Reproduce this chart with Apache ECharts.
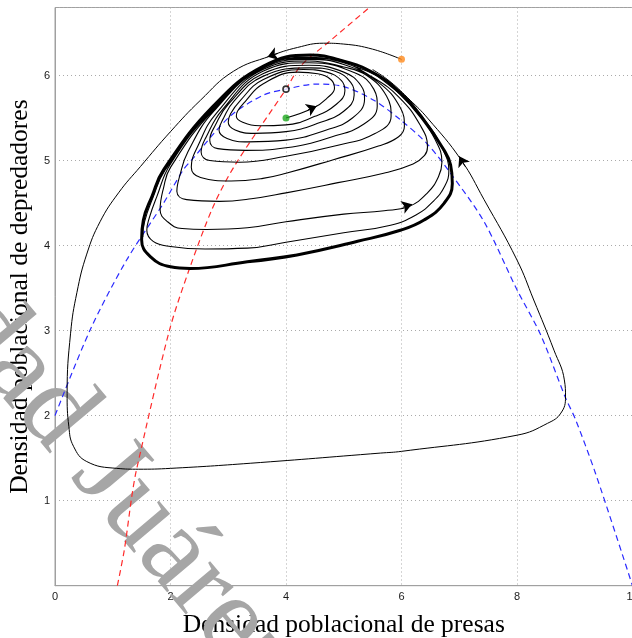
<!DOCTYPE html>
<html><head><meta charset="utf-8">
<script src="https://cdn.jsdelivr.net/npm/echarts@6/dist/echarts.min.js"></script>
<style>html,body{margin:0;padding:0;background:#fff;overflow:hidden}#c{width:632px;height:638px}</style>
</head><body><div id="c"></div>
<script>
// ---- data ----
const xTickLabels = [0, 2, 4, 6, 8, 10];
const yTickLabels = [1, 2, 3, 4, 5, 6];

const redNullcline = [[1.08,0],[1.20,0.42],[1.33,1.05],[1.41,1.36],[1.98,3.0],[2.34,3.75],[2.74,4.46],[3.12,4.95],[4.0,5.84],[4.25,6.11],[4.75,6.40],[5.46,6.81]];
const blueNullcline = [[0,2.0],[0.61,3.01],[1.24,3.83],[1.88,4.50],[2.22,4.89],[2.37,5.01],[3.03,5.52],[3.61,5.77],[4.0,5.84],[4.53,5.90],[5.0,5.87],[5.52,5.71],[5.98,5.48],[6.44,5.20],[6.85,4.85],[7.43,4.28],[8.0,3.48],[8.41,2.95],[8.84,2.21],[9.01,1.96],[9.36,1.32],[10,0]];

const spiralLoop1 = [[4.00,5.50],[4.48,5.62],[4.72,5.74],[4.84,5.85],[4.78,5.95],[4.55,6.02],[4.20,6.04],[3.60,5.90],[3.30,5.70],[3.16,5.58],[3.14,5.52],[3.25,5.45],[3.55,5.41],[4.00,5.42]];
const spiralLoop2 = [[4.50,5.52],[4.85,5.65],[5.02,5.82],[4.96,5.94],[4.70,6.04],[4.30,6.07],[3.60,5.95],[3.20,5.70],[3.04,5.55],[3.00,5.45],[3.12,5.36],[3.45,5.32],[4.00,5.34]];
const spiralLoop3 = [[4.60,5.45],[5.00,5.58],[5.18,5.77],[5.12,5.92],[4.85,6.05],[4.40,6.09],[3.60,5.99],[3.10,5.70],[2.92,5.50],[2.84,5.36],[2.98,5.26],[3.35,5.22],[4.00,5.24]];
const spiralLoop4 = [[4.70,5.36],[5.15,5.50],[5.36,5.72],[5.30,5.88],[5.00,6.04],[4.40,6.12],[3.60,6.02],[3.00,5.66],[2.78,5.42],[2.68,5.24],[2.82,5.14],[3.30,5.12],[4.00,5.15]];
const spiralLoop5 = [[4.80,5.28],[5.35,5.43],[5.58,5.64],[5.52,5.84],[5.20,6.03],[4.40,6.15],[3.60,6.05],[2.90,5.60],[2.62,5.28],[2.53,5.10],[2.68,5.00],[3.20,4.98],[4.00,5.05]];
const spiralLoop6 = [[4.90,5.18],[5.55,5.32],[5.82,5.52],[5.74,5.76],[5.40,6.00],[5.00,6.10],[4.40,6.17],[3.60,6.07],[2.80,5.56],[2.48,5.18],[2.36,4.92],[2.52,4.80],[3.05,4.76],[3.60,4.79],[4.00,4.85]];
const spiralLoop7 = [[4.82,5.01],[5.60,5.17],[5.95,5.28],[6.05,5.40],[5.98,5.62],[5.60,5.92],[5.00,6.13],[4.40,6.19],[3.60,6.085],[2.75,5.58],[2.30,5.10],[2.16,4.82],[2.11,4.64],[2.28,4.54],[2.85,4.52],[3.40,4.55],[4.00,4.62]];
const spiralLoop8 = [[4.90,4.74],[5.69,4.85],[6.20,4.96],[6.40,5.06],[6.45,5.16],[6.32,5.42],[5.95,5.75],[5.50,5.98],[5.00,6.15],[4.40,6.205],[3.60,6.095],[2.75,5.60],[2.00,4.92],[1.88,4.68],[1.82,4.42],[1.95,4.28],[2.20,4.20],[2.62,4.19],[3.33,4.21],[4.00,4.28]];
const spiralLoop9 = [[5.00,4.37],[5.70,4.41],[6.13,4.46],[6.45,4.62],[6.64,4.81],[6.70,4.98],[6.58,5.25],[6.25,5.58],[5.80,5.88],[5.30,6.08],[4.40,6.215],[3.60,6.10],[2.75,5.615],[2.00,4.96],[1.76,4.57],[1.63,4.32],[1.59,4.18],[1.70,4.05],[2.00,3.99],[2.60,3.96],[3.33,3.97],[4.00,4.04]];
const spiralLoop10 = [[5.00,4.15],[5.81,4.24],[6.25,4.36],[6.55,4.52],[6.75,4.70],[6.82,4.88],[6.70,5.15],[6.38,5.50],[5.98,5.81],[5.50,6.04],[4.94,6.18],[4.42,6.235],[3.61,6.105],[2.74,5.625],[1.90,4.88],[1.70,4.57],[1.55,4.28],[1.52,4.10]];

const limitCycle = [[3.33,3.81],[4.19,3.89],[5.24,4.05],[5.98,4.18],[6.39,4.30],[6.74,4.50],[6.88,4.73],[6.85,4.95],[6.73,5.13],[6.38,5.48],[5.98,5.79],[5.52,6.03],[4.94,6.18],[4.42,6.24],[3.61,6.11],[2.74,5.64],[1.88,4.89],[1.68,4.58],[1.53,4.30],[1.50,4.07],[1.65,3.87],[2.00,3.75],[2.34,3.73],[3.33,3.81],[4.19,3.89]];

const outerOrbit = [[6.00,6.19],[5.50,6.31],[5.00,6.37],[4.65,6.38],[4.20,6.33],[3.73,6.23],[3.09,6.05],[2.52,5.71],[2.00,5.34],[1.48,4.93],[1.10,4.62],[0.78,4.28],[0.55,3.90],[0.38,3.45],[0.27,2.97],[0.21,2.26],[0.24,1.87],[0.32,1.64],[0.55,1.46],[1.07,1.38],[1.45,1.37],[2.00,1.38],[3.38,1.44],[5.64,1.56],[6.00,1.58],[8.00,1.77],[8.53,1.91],[8.76,2.03],[8.84,2.22],[8.82,2.42],[8.64,2.77],[8.29,3.36],[8.00,3.83],[7.43,4.54],[7.03,5.01],[6.45,5.50],[6.15,5.71],[5.80,5.93],[5.50,6.07]];

const arrowSegments = [
  [[3.86,6.26],[3.68,6.22]],
  [[7.10,4.93],[7.00,5.05]],
  [[4.38,5.595],[4.53,5.64]],
  [[6.02,4.45],[6.18,4.485]]
];
const orangeStart = [6.00, 6.19];
const greenStart = [4.00, 5.50];
const equilibrium = [4.00, 5.84];

// ---- chart ----
const spiral = [].concat(spiralLoop1, spiralLoop2, spiralLoop3, spiralLoop4, spiralLoop5,
  spiralLoop6, spiralLoop7, spiralLoop8, spiralLoop9, spiralLoop10);

const chart = echarts.init(document.getElementById('c'), null, {renderer: 'canvas'});
const tickFont = {fontFamily: 'Liberation Sans', fontSize: 11, color: '#1a1a1a'};
const nameFont = {fontFamily: 'Liberation Serif', fontSize: 25.5, color: '#000'};
const grid = {left: 55, top: 7.5, width: 577.5, height: 578.2, show: true, borderColor: '#a0a0a0', borderWidth: 1,
  containLabel: false, outerBoundsMode: 'none'};

function lineSeries(data, color, width, type, z, smooth) {
  return {type: 'line', data: data, smooth: smooth === undefined ? 0.45 : smooth, symbol: 'none', silent: true, z: z || 3,
    lineStyle: {color: color, width: width, type: type || 'solid'}, animation: false, clip: true};
}

chart.setOption({
  animation: false,
  grid: grid,
  xAxis: {type: 'value', min: 0, max: 10, interval: 2,
    name: 'Densidad poblacional de presas', nameLocation: 'middle', nameGap: 27, nameTextStyle: nameFont,
    axisLine: {show: true, lineStyle: {color: '#a0a0a0', width: 1}}, axisTick: {show: false},
    axisLabel: Object.assign({margin: 6, formatter: v => xTickLabels.indexOf(v) >= 0 ? String(v) : ''}, tickFont),
    splitLine: {show: true, lineStyle: {color: '#aaaaaa', type: [1, 3], width: 1}}},
  yAxis: {type: 'value', min: 0, max: 6.8, interval: 1,
    name: 'Densidad poblacional de depredadores', nameLocation: 'middle', nameGap: 11, nameTextStyle: nameFont,
    axisLine: {show: true, lineStyle: {color: '#a0a0a0', width: 1}}, axisTick: {show: false},
    axisLabel: Object.assign({margin: 5, showMaxLabel: false, formatter: v => yTickLabels.indexOf(v) >= 0 ? String(v) : ''}, tickFont),
    splitLine: {show: true, lineStyle: {color: '#aaaaaa', type: [1, 3], width: 1}}},
  graphic: [
    {type: 'text', x: 30, y: 472, rotation: -0.87, z: 1, silent: true,
      style: {text: 'Universidad', fill: '#a6a6a6', font: '115px "Liberation Serif"', align: 'right', verticalAlign: 'bottom'}},
    {type: 'text', x: 30, y: 472, rotation: -0.87, z: 1, silent: true,
      style: {text: ' Juárez', fill: '#a6a6a6', font: '115px "Liberation Serif"', align: 'left', verticalAlign: 'bottom'}}
  ],
  series: [
    lineSeries(redNullcline, '#ff2a2a', 1.2, [6, 4], 3, 0.3),
    lineSeries(blueNullcline, '#2a2aff', 1.2, [6, 4], 3, 0.3),
    lineSeries(outerOrbit, '#000', 1, 'solid', 4),
    lineSeries(spiral, '#000', 1.1, 'solid', 4),
    lineSeries(limitCycle, '#000', 3, 'solid', 5),
    {type: 'lines', coordinateSystem: 'cartesian2d', silent: true, z: 6, animation: false,
      symbol: ['none', 'arrow'], symbolSize: [7, 10],
      lineStyle: {color: '#000', width: 1, opacity: 1},
      data: arrowSegments.map(s => ({coords: s}))},
    {type: 'scatter', silent: true, z: 7, animation: false, data: [orangeStart], symbolSize: 7,
      itemStyle: {color: '#ff8a1c'}},
    {type: 'scatter', silent: true, z: 7, animation: false, data: [greenStart], symbolSize: 7,
      itemStyle: {color: '#1ea81e'}},
    {type: 'scatter', silent: true, z: 7, animation: false, data: [equilibrium], symbolSize: 6,
      itemStyle: {color: '#fff', borderColor: '#000', borderWidth: 1.6}}
  ]
});
</script>
</body></html>
